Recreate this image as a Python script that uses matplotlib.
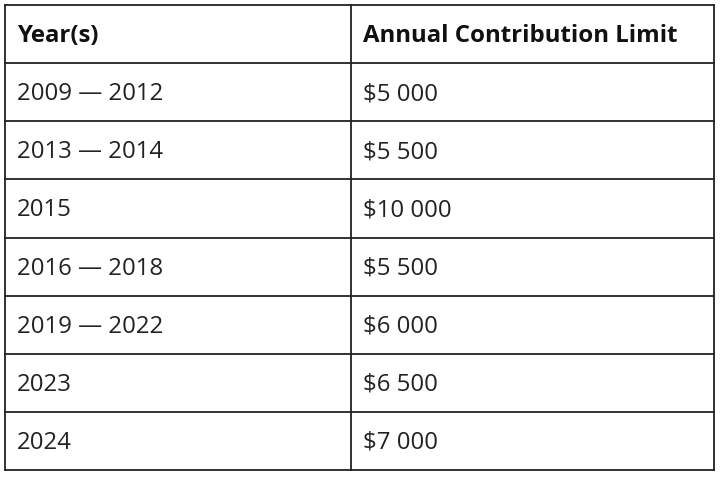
import matplotlib
matplotlib.use("Agg")
import matplotlib.pyplot as plt

headers = ["Year(s)", "Annual Contribution Limit"]
years = ["2009 — 2012", "2013 — 2014", "2015", "2016 — 2018", "2019 — 2022", "2023", "2024"]
limits = ["$5 000", "$5 500", "$10 000", "$5 500", "$6 000", "$6 500", "$7 000"]

W, H = 720, 478
fig = plt.figure(figsize=(W/100, H/100), dpi=100)
ax = fig.add_axes([0, 0, 1, 1])
ax.set_xlim(0, W); ax.set_ylim(H, 0); ax.axis("off")

left, right, mid = 5, 714, 351
top, bottom = 5, 470
nrows = len(years) + 1
rh = (bottom - top) / nrows
lc = "#222222"
for i in range(nrows + 1):
    y = top + i * rh
    ax.plot([left, right], [y, y], color=lc, lw=1.3)
for x in (left, mid, right):
    ax.plot([x, x], [top, bottom], color=lc, lw=1.3)

fam = ["Open Sans", "DejaVu Sans"]
fs = 17.3
for j, h in enumerate(headers):
    ax.text([left, mid][j] + 12, top + rh/2 + 2, h, ha="left", va="center",
            fontsize=fs, fontweight="bold", family=fam, color="#111111")
for i, (a, b) in enumerate(zip(years, limits)):
    yc = top + (i + 1.5) * rh + 2
    ax.text(left + 12, yc, a, ha="left", va="center", fontsize=fs, family=fam, color="#222222")
    ax.text(mid + 12, yc, b, ha="left", va="center", fontsize=fs, family=fam, color="#222222")

fig.savefig("out.png", dpi=100, facecolor="white")
